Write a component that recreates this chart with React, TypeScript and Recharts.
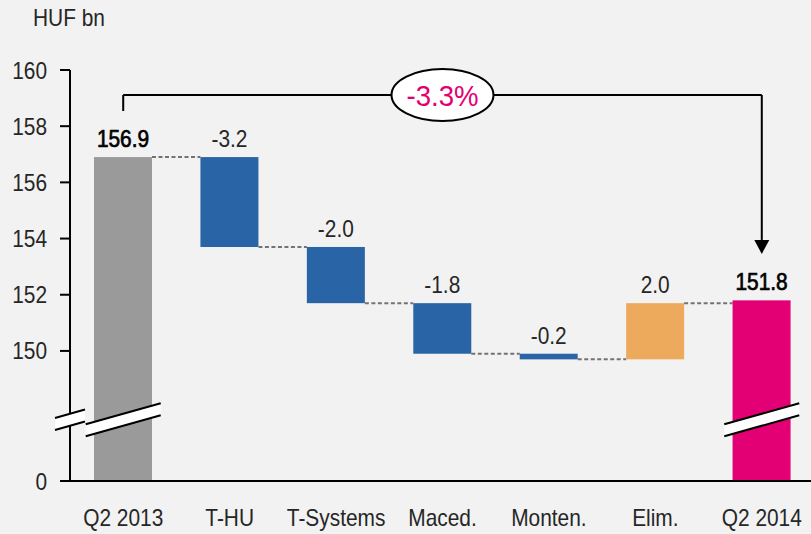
import React from 'react';
import { BarChart, Bar, XAxis, YAxis, LabelList, ReferenceLine, ReferenceDot } from 'recharts';

// ---- data ----
const categories = ['Q2 2013', 'T-HU', 'T-Systems', 'Maced.', 'Monten.', 'Elim.', 'Q2 2014'];
const values = [156.9, -3.2, -2.0, -1.8, -0.2, 2.0, 151.8];
const kinds = ['total', 'delta', 'delta', 'delta', 'delta', 'delta', 'total'];
const valueLabels = ['156.9', '-3.2', '-2.0', '-1.8', '-0.2', '2.0', '151.8'];
const yTickValues = [0, 150, 152, 154, 156, 158, 160];
const changeLabel = '-3.3%';
const unitLabel = 'HUF bn';

// ---- broken axis: real 0 is drawn at FLOOR ----
const FLOOR = 145.37;
const TOP = 160;
const toDisplay = (v: number) => (v < 148 ? FLOOR : v);

// annotation levels (display units)
const BRACKET_Y = 159.11;
const BRACKET_LEFT_END = 158.54;
const ARROW_TIP = 153.45;
const ARROW_BASE = 153.95;
const BREAK_Y = 147.55;

// layout
const W = 811;
const H = 534;
const PLOT_LEFT = 70;
const PLOT_RIGHT = 815;
const BAR_SIZE = 58;
const BAND = (PLOT_RIGHT - PLOT_LEFT) / categories.length;
const GAP = BAND - BAR_SIZE;
const FONT = "'Liberation Sans', Arial, sans-serif";
const FS = 24;
const SX = 0.87; // horizontal squeeze to mimic a condensed face

const COLORS = {
  start: '#9a9a9a',
  down: '#2864a6',
  up: '#edaa5c',
  end: '#e20074',
  connector: '#737373',
  text: '#262626',
  bg: '#f2f2f2',
};

let running = 0;
const rows = categories.map((name, i) => {
  let lo: number, hi: number, up: boolean;
  if (kinds[i] === 'total') {
    lo = FLOOR;
    hi = values[i];
    running = values[i];
    up = true;
  } else {
    const start = running;
    const end = running + values[i];
    running = end;
    lo = Math.min(start, end);
    hi = Math.max(start, end);
    up = values[i] >= 0;
  }
  let fill = up ? COLORS.up : COLORS.down;
  if (kinds[i] === 'total') fill = i === 0 ? COLORS.start : COLORS.end;
  return { name, range: [lo, hi], label: valueLabels[i], kind: kinds[i], up, fill };
});

const NarrowText = ({ x, y, anchor, size, fill, sx, heavy, children }: any) => (
  <text
    transform={`translate(${x},${y}) scale(${sx ?? SX},1)`}
    x={0}
    y={0}
    textAnchor={anchor}
    fontFamily={FONT}
    fontSize={size ?? FS}
    fill={fill ?? COLORS.text}
    stroke={heavy ? fill : undefined}
    strokeWidth={heavy ? 0.7 : undefined}
  >
    {children}
  </text>
);

const WaterfallShape = (props: any) => {
  const { x, y, width, height, index } = props;
  const row = rows[index];
  const top = Math.min(y, y + height);
  const h = Math.abs(height);
  const hasNext = index < rows.length - 1;
  const lvl = row.kind === 'total' || row.up ? top : top + h;
  return (
    <g>
      <rect x={x} y={top} width={width} height={h} fill={row.fill} />
      {hasNext && (
        <line
          x1={x + width}
          x2={x + width + GAP}
          y1={lvl}
          y2={lvl}
          stroke={COLORS.connector}
          strokeWidth={2}
          strokeDasharray="4 2.5"
        />
      )}
    </g>
  );
};

const ValueLabel = (props: any) => {
  const { x, y, width, height, value, index } = props;
  const top = Math.min(y, y + height);
  const isTotal = rows[index].kind === 'total';
  return (
    <NarrowText
      x={x + width / 2}
      y={top - 10}
      anchor="middle"
      fill={isTotal ? '#000000' : COLORS.text}
      heavy={isTotal}
    >
      {value}
    </NarrowText>
  );
};

const XTick = (props: any) => {
  const { x, y, payload } = props;
  return (
    <NarrowText x={x} y={y + 17} anchor="middle">
      {payload.value}
    </NarrowText>
  );
};

const YTick = (props: any) => {
  const { x, y, payload } = props;
  const label = payload.value === FLOOR ? '0' : String(payload.value);
  return (
    <NarrowText x={x} y={y + 8.5} anchor="end">
      {label}
    </NarrowText>
  );
};

const breakPiece = (cx: number, cy: number, halfW: number) => {
  const s = 0.28;
  const t = 12;
  const x1 = cx - halfW;
  const x2 = cx + halfW;
  const y1 = cy - t / 2 + s * halfW;
  const y2 = cy - t / 2 - s * halfW;
  return (
    <g>
      <polygon points={`${x1},${y1} ${x2},${y2} ${x2},${y2 + t} ${x1},${y1 + t}`} fill="#ffffff" />
      <line x1={x1} y1={y1} x2={x2} y2={y2} stroke="#000" strokeWidth={2} />
      <line x1={x1} y1={y1 + t} x2={x2} y2={y2 + t} stroke="#000" strokeWidth={2} />
    </g>
  );
};

const BreakWithAxis = (props: any) => {
  const { cx, cy } = props;
  return (
    <g>
      {breakPiece(cx, cy, 37.5)}
      {breakPiece(cx - BAND / 2, cy, 15)}
    </g>
  );
};

const BreakOnly = (props: any) => {
  const { cx, cy } = props;
  return breakPiece(cx, cy, 37.5);
};

const ChangeBubble = (props: any) => {
  const { cx, cy } = props;
  return (
    <g>
      <ellipse cx={cx} cy={cy} rx={51} ry={26} fill="#ffffff" stroke="#000" strokeWidth={2} />
      <NarrowText x={cx} y={cy + 11} anchor="middle" size={30} sx={0.92} fill={COLORS.end}>
        {changeLabel}
      </NarrowText>
    </g>
  );
};

const ArrowHead = (props: any) => {
  const { cx, cy } = props;
  return <polygon points={`${cx - 7.5},${cy - 14} ${cx + 7.5},${cy - 14} ${cx},${cy}`} fill="#000" />;
};

export default function App() {
  return (
    <div
      style={{
        position: 'absolute',
        left: 0,
        top: 0,
        width: W,
        height: H,
        overflow: 'hidden',
        background: COLORS.bg,
      }}
    >
      <div
        style={{
          position: 'absolute',
          left: 33,
          top: 4,
          fontFamily: FONT,
          fontSize: FS,
          color: COLORS.text,
          lineHeight: '28px',
          whiteSpace: 'nowrap',
          transform: `scale(${SX},1)`,
          transformOrigin: 'left top',
        }}
      >
        {unitLabel}
      </div>
      <BarChart
        width={PLOT_RIGHT}
        height={H}
        data={rows}
        margin={{ top: 70, right: 0, bottom: 0, left: 0 }}
        barSize={BAR_SIZE}
      >
        <XAxis
          dataKey="name"
          height={53}
          interval={0}
          tickLine={false}
          tickSize={0}
          tickMargin={28}
          axisLine={{ stroke: '#000', strokeWidth: 2 }}
          tick={XTick}
        />
        <YAxis
          type="number"
          width={PLOT_LEFT}
          domain={[FLOOR, TOP]}
          ticks={yTickValues.map(toDisplay)}
          allowDataOverflow
          tickSize={10}
          tickMargin={13}
          axisLine={{ stroke: '#000', strokeWidth: 2 }}
          tickLine={{ stroke: '#000', strokeWidth: 2 }}
          tick={YTick}
        />
        <Bar dataKey="range" shape={WaterfallShape} isAnimationActive={false}>
          <LabelList dataKey="label" content={ValueLabel} />
        </Bar>
        <ReferenceLine
          segment={[
            { x: categories[0], y: BRACKET_LEFT_END },
            { x: categories[0], y: BRACKET_Y },
          ]}
          stroke="#000"
          strokeWidth={2}
        />
        <ReferenceLine
          segment={[
            { x: categories[0], y: BRACKET_Y },
            { x: categories[6], y: BRACKET_Y },
          ]}
          stroke="#000"
          strokeWidth={2}
        />
        <ReferenceLine
          segment={[
            { x: categories[6], y: BRACKET_Y },
            { x: categories[6], y: ARROW_BASE },
          ]}
          stroke="#000"
          strokeWidth={2}
        />
        <ReferenceDot x={categories[6]} y={ARROW_TIP} r={1} shape={ArrowHead} />
        <ReferenceDot x={categories[3]} y={BRACKET_Y} r={1} shape={ChangeBubble} />
        <ReferenceDot x={categories[0]} y={BREAK_Y} r={1} shape={BreakWithAxis} />
        <ReferenceDot x={categories[6]} y={BREAK_Y} r={1} shape={BreakOnly} />
      </BarChart>
    </div>
  );
}
